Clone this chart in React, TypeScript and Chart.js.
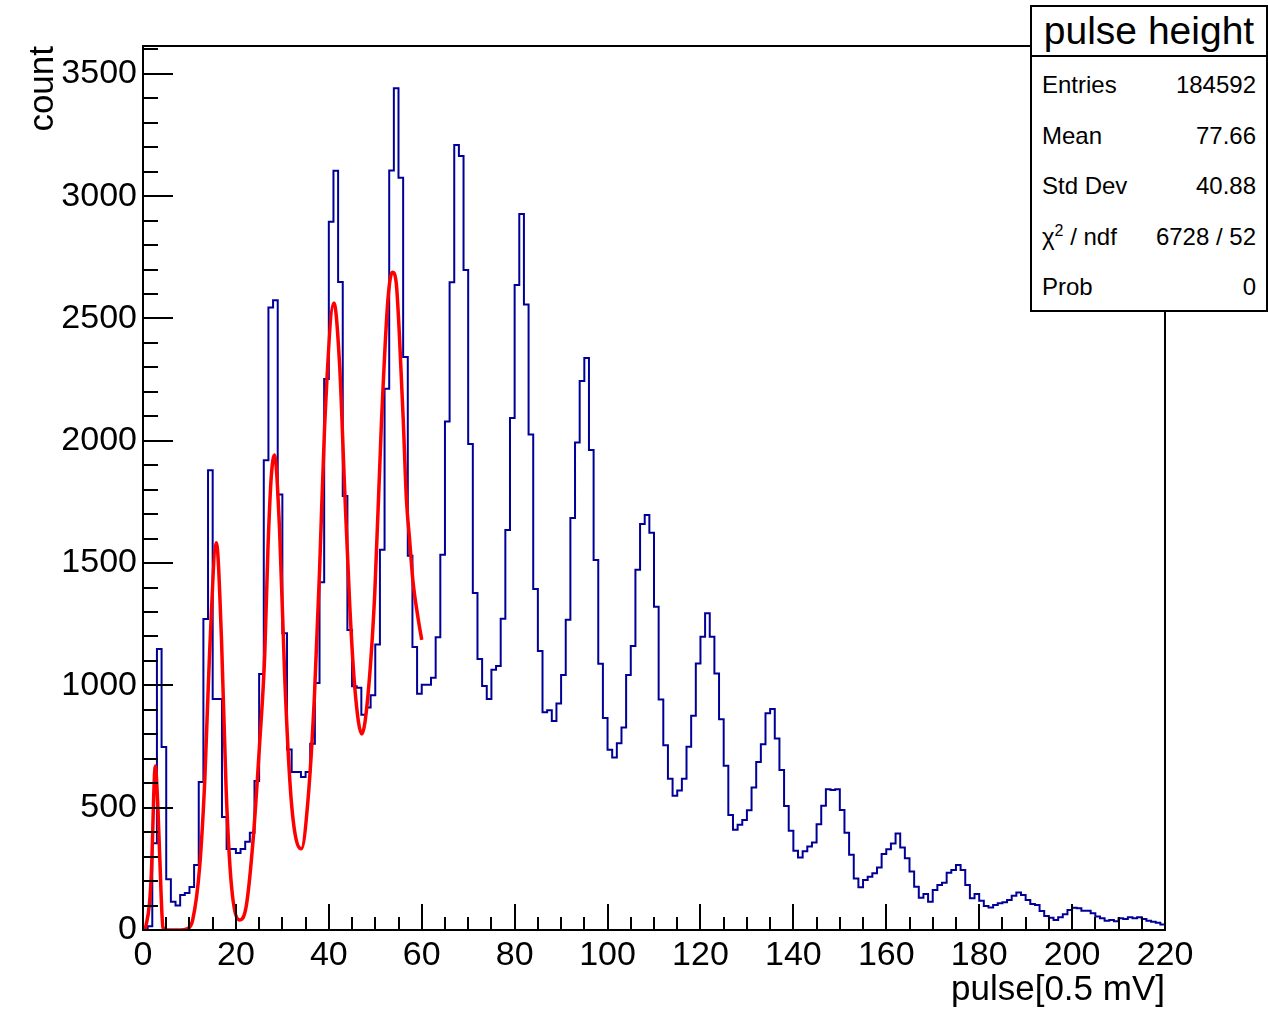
import React, { useEffect, useRef } from 'react';
import { Chart, registerables } from 'chart.js';

Chart.register(...registerables);

// ---------- data ----------
const binCounts: number[] = [
  8, 15, 355, 1149, 748, 207, 115, 100, 143, 151,
  176, 266, 605, 1271, 1880, 944, 944, 462, 331, 331,
  315, 331, 361, 398, 609, 1047, 1920, 2545, 2575, 1780,
  1213, 738, 646, 646, 625, 646, 761, 1010, 1422, 2253,
  2896, 3104, 2649, 1774, 1226, 997, 990, 880, 910, 960,
  1167, 1555, 2213, 3105, 3441, 3075, 2343, 1530, 1157, 966,
  1003, 1003, 1031, 1197, 1534, 2079, 2648, 3209, 3164, 2698,
  1987, 1378, 1108, 998, 944, 1064, 1079, 1272, 1635, 2093,
  2637, 2927, 2557, 2026, 1394, 1141, 890, 898, 854, 926,
  1043, 1268, 1684, 1993, 2244, 2338, 1962, 1513, 1089, 867,
  737, 705, 763, 828, 1043, 1161, 1473, 1660, 1697, 1624,
  1322, 942, 755, 618, 549, 570, 618, 749, 876, 1090,
  1199, 1295, 1199, 1049, 862, 672, 470, 410, 430, 450,
  490, 583, 687, 759, 886, 903, 783, 654, 507, 406,
  324, 296, 322, 341, 358, 432, 508, 575, 572, 575,
  491, 398, 308, 211, 175, 204, 218, 232, 256, 311,
  330, 354, 395, 337, 293, 239, 177, 132, 147, 116,
  164, 184, 193, 234, 245, 266, 245, 184, 130, 147,
  120, 98, 92, 102, 109, 113, 123, 140, 153, 143,
  123, 106, 102, 78, 57, 50, 41, 52, 64, 82,
  91, 89, 79, 79, 68, 55, 48, 38, 41, 36,
  48, 45, 52, 48, 52, 45, 38, 34, 30, 22,
];

const fitX: number[] = [
  0.5, 1.4, 1.8, 2.65, 3.2, 3.6, 4.3, 5, 8, 9.5,
  10.7, 12.2, 13.3, 14.3, 15.8, 16.9, 17.9, 19.0, 20.8, 22.2,
  23.7, 25.1, 26.2, 26.9, 27.6, 28.3, 29.4, 30.5, 31.6, 32.6,
  34.1, 35.5, 36.9, 38.0, 39.1, 41.1, 42.3, 43.4, 44.5, 45.6,
  47.1, 48.4, 49.9, 51.3, 52.7, 53.7, 54.5, 55.2, 56.0, 56.7,
  57.4, 58.1, 59.2, 60,
];
const fitY: number[] = [
  3, 109, 232, 670, 504, 300, 10, 0, 0, 5,
  41, 259, 613, 1118, 1583, 1186, 572, 191, 41, 95,
  368, 760, 1124, 1560, 1850, 1942, 1635, 1039, 613, 409,
  332, 528, 954, 1465, 2061, 2563, 2318, 1807, 1329, 989,
  801, 954, 1380, 2061, 2572, 2689, 2647, 2430, 2096, 1762,
  1594, 1428, 1277, 1186,
];

const xTickValues: number[] = [0, 20, 40, 60, 80, 100, 120, 140, 160, 180, 200, 220];
const yTickValues: number[] = [0, 500, 1000, 1500, 2000, 2500, 3000, 3500];
const X_MINOR_STEP = 5;
const Y_MINOR_STEP = 100;
const X_MAX = 220;
const Y_MAX = 3614;

const histTitle = 'pulse height';
const xTitle = 'pulse[0.5 mV]';
const yTitle = 'count';
const statLabels: string[] = ['Entries', 'Mean', 'Std Dev', 'χ2 / ndf', 'Prob'];
const statValues: string[] = ['184592', '77.66', '40.88', '6728 / 52', '0'];

const FONT = "'Liberation Sans', Arial, Helvetica, sans-serif";

// ROOT-style frame and inward ticks
const rootAxes = {
  id: 'rootAxes',
  afterDraw(chart: any) {
    const { ctx, chartArea: a } = chart;
    const xs = chart.scales.x;
    const ys = chart.scales.y;
    ctx.save();
    ctx.strokeStyle = '#000';
    ctx.lineWidth = 2;
    ctx.beginPath();
    for (let v = 0; v <= Y_MAX; v += Y_MINOR_STEP) {
      const py = Math.round(ys.getPixelForValue(v));
      const len = yTickValues.includes(v) ? 30 : 15;
      ctx.moveTo(a.left, py);
      ctx.lineTo(a.left + len, py);
    }
    for (let v = 0; v <= X_MAX; v += X_MINOR_STEP) {
      const px = Math.round(xs.getPixelForValue(v));
      const len = xTickValues.includes(v) ? 26 : 13;
      ctx.moveTo(px, a.bottom);
      ctx.lineTo(px, a.bottom - len);
    }
    ctx.stroke();
    ctx.strokeRect(a.left, a.top, a.right - a.left, a.bottom - a.top);
    ctx.restore();
  },
};

function StatLabel({ text }: { text: string }) {
  if (text.startsWith('χ2')) {
    return (
      <span>
        χ
        <span style={{ fontSize: 16, position: 'relative', top: -9 }}>2</span>
        {text.slice(2)}
      </span>
    );
  }
  return <span>{text}</span>;
}

export default function App() {
  const canvasRef = useRef<HTMLCanvasElement | null>(null);

  useEffect(() => {
    document.body.style.margin = '0';
    const canvas = canvasRef.current;
    if (!canvas) return;

    const histData = binCounts.map((v, i) => ({ x: i, y: v }));
    histData.push({ x: binCounts.length, y: binCounts[binCounts.length - 1] });
    const fitData = fitX.map((x, i) => ({ x, y: fitY[i] }));

    const chart = new Chart(canvas, {
      type: 'line',
      data: {
        datasets: [
          {
            label: 'fit',
            data: fitData,
            borderColor: '#ff0000',
            borderWidth: 3.5,
            pointRadius: 0,
            cubicInterpolationMode: 'monotone',
            fill: false,
            order: 0,
          } as any,
          {
            label: 'pulse height',
            data: histData,
            borderColor: '#000099',
            borderWidth: 2,
            pointRadius: 0,
            stepped: 'before',
            fill: false,
            order: 1,
          } as any,
        ],
      },
      options: {
        responsive: false,
        animation: false,
        devicePixelRatio: 1,
        layout: { padding: { top: 46, right: 103, left: 0, bottom: 0 } },
        plugins: {
          legend: { display: false },
          tooltip: { enabled: false },
        },
        scales: {
          x: {
            type: 'linear',
            min: 0,
            max: X_MAX,
            afterBuildTicks: (s: any) => {
              s.ticks = xTickValues.map((v) => ({ value: v }));
            },
            afterFit: (s: any) => {
              s.height = 82;
            },
            grid: { display: false, drawTicks: false },
            border: { display: false },
            ticks: {
              color: '#000',
              font: { family: FONT, size: 34 },
              padding: 5,
              maxRotation: 0,
              autoSkip: false,
              callback: (v: any) => String(v),
            },
            title: {
              display: true,
              text: xTitle,
              align: 'end',
              color: '#000',
              font: { family: FONT, size: 35 },
              padding: { top: 0, bottom: 1 },
            },
          },
          y: {
            type: 'linear',
            min: 0,
            max: Y_MAX,
            afterBuildTicks: (s: any) => {
              s.ticks = yTickValues.map((v) => ({ value: v }));
            },
            afterFit: (s: any) => {
              s.width = 143;
            },
            grid: { display: false, drawTicks: false },
            border: { display: false },
            ticks: {
              color: '#000',
              font: { family: FONT, size: 34 },
              padding: 6,
              autoSkip: false,
              callback: (v: any) => String(v),
            },
            title: {
              display: true,
              text: yTitle,
              align: 'end',
              color: '#000',
              font: { family: FONT, size: 35 },
              padding: { top: 22, bottom: 0 },
            },
          },
        },
      } as any,
      plugins: [rootAxes],
    });

    return () => chart.destroy();
  }, []);

  return (
    <div style={{ position: 'absolute', left: 0, top: 0, width: 1268, height: 1012, background: '#fff' }}>
      <canvas ref={canvasRef} width={1268} height={1012} style={{ position: 'absolute', left: 0, top: 0 }} />
      <div
        style={{
          position: 'absolute',
          left: 1030,
          top: 5,
          width: 238,
          height: 307,
          boxSizing: 'border-box',
          border: '2px solid #000',
          background: '#fff',
          fontFamily: FONT,
          color: '#000',
        }}
      >
        <div
          style={{
            height: 48,
            borderBottom: '2px solid #000',
            fontSize: 39,
            lineHeight: '48px',
            textAlign: 'center',
            whiteSpace: 'nowrap',
          }}
        >
          {histTitle}
        </div>
        {statLabels.map((label, i) => (
          <div
            key={label}
            style={{
              position: 'absolute',
              left: 10,
              right: 10,
              top: 63 + 50.5 * i,
              height: 30,
              lineHeight: '30px',
              fontSize: 24,
              display: 'flex',
              justifyContent: 'space-between',
              whiteSpace: 'nowrap',
            }}
          >
            <StatLabel text={label} />
            <span>{statValues[i]}</span>
          </div>
        ))}
      </div>
    </div>
  );
}
